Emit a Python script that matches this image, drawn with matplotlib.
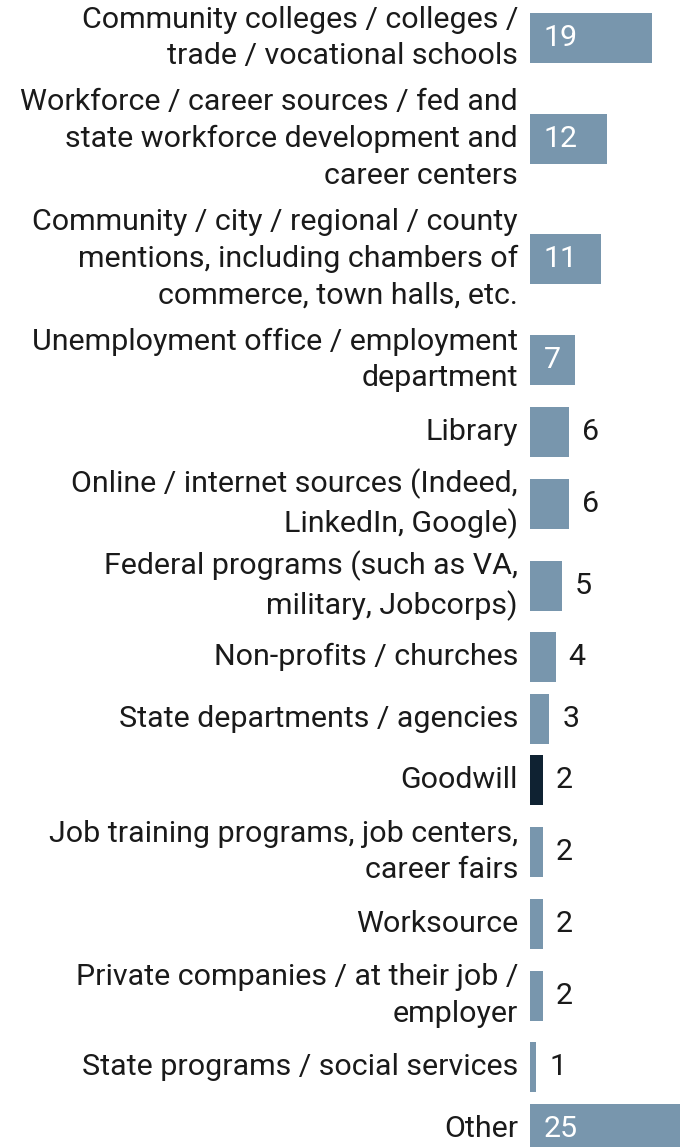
import matplotlib.pyplot as plt

plt.rcParams['font.family'] = ['Roboto', 'DejaVu Sans']

labels = [
    "Community colleges / colleges /\ntrade / vocational schools",
    "Workforce / career sources / fed and\nstate workforce development and\ncareer centers",
    "Community / city / regional / county\nmentions, including chambers of\ncommerce, town halls, etc.",
    "Unemployment office / employment\ndepartment",
    "Library",
    "Online / internet sources (Indeed,\nLinkedIn, Google)",
    "Federal programs (such as VA,\nmilitary, Jobcorps)",
    "Non-profits / churches",
    "State departments / agencies",
    "Goodwill",
    "Job training programs, job centers,\ncareer fairs",
    "Worksource",
    "Private companies / at their job /\nemployer",
    "State programs / social services",
    "Other",
]
counts = [19, 12, 11, 7, 6, 6, 5, 4, 3, 2, 2, 2, 2, 1, 25]
highlight = "Goodwill"

BAR = "#7896ad"
DARK = "#0f2232"
TEXT = "#1a1a1a"

W, H = 680, 1147
px_per_unit = 6.42
bar_left = 530

# row height depends on how many lines the label wraps to
row_h = {1: 61.5, 2: 82, 3: 120}
heights = [row_h[l.count("\n") + 1] for l in labels]
ys = [38.0]
for a, b in zip(heights[:-1], heights[1:]):
    ys.append(ys[-1] + (a + b) / 2)

fig = plt.figure(figsize=(W / 100, H / 100), dpi=100)
ax = fig.add_axes([bar_left / W, 0, (W - bar_left) / W, 1])
ax.set_xlim(0, (W - bar_left) / px_per_unit)
ax.set_ylim(H, 0)
ax.axis("off")

colors = [DARK if l == highlight else BAR for l in labels]
ax.barh(ys, counts, height=50, color=colors, clip_on=False)

fs = 21.9
for y, lab, v in zip(ys, labels, counts):
    ax.annotate(lab, (0, y), xytext=(-12, 0), textcoords="offset pixels",
                ha="right", va="center", fontsize=fs, color=TEXT,
                linespacing=1.39, annotation_clip=False)
    if v >= 7:
        ax.annotate(str(v), (0, y), xytext=(14, 0), textcoords="offset pixels",
                    ha="left", va="center", fontsize=fs, color="white")
    else:
        ax.annotate(str(v), (v, y), xytext=(13, 0), textcoords="offset pixels",
                    ha="left", va="center", fontsize=fs, color=TEXT)

fig.savefig("out.png", dpi=100)
